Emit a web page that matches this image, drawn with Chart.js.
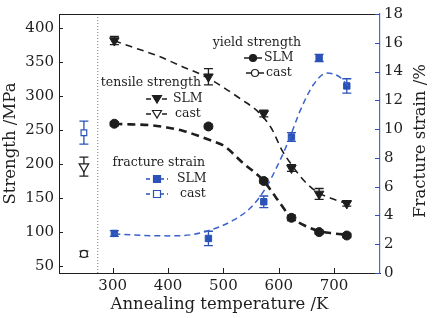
<!DOCTYPE html>
<html>
<head>
<meta charset="utf-8">
<script src="https://cdn.jsdelivr.net/npm/chart.js@4.4.0/dist/chart.umd.min.js"></script>
<style>
html, body { margin: 0; padding: 0; background: #fff; }
</style>
</head>
<body>
<canvas id="grafica" width="432" height="318"></canvas>
<script>
/* Datos */
const temps = [303, 473, 573, 623, 673, 723];
const tensileSLM = [381, 328, 274, 194, 156, 142];
const tensileErr = [6, 12, 5, 5, 8, 4];
const yieldSLM = [259, 255, 175, 121, 100, 95];
const yieldErr = [3, 3, 3, 4, 3, 3];
const strainSLM = [2.75, 2.4, 4.95, 9.45, 14.95, 13.0];
const strainErr = [0.2, 0.5, 0.4, 0.3, 0.25, 0.5];

const castTemp = [248];
const tensileCast = [196];
const tensileCastErr = [14];
const yieldCast = [68];
const yieldCastErr = [4];
const strainCast = [9.75];
const strainCastErr = [0.8];

/* Curvas de ajuste (puntos leídos sobre las líneas discontinuas) */
const tensileFitT = [303, 319, 380, 428, 458, 485, 530, 566, 587, 606, 624, 645, 669, 693, 723];
const tensileFit = [381, 376, 359, 342, 332, 320, 296, 274, 252, 220, 198, 176, 159, 150, 142];
const yieldFitT = [303, 331, 367, 398, 428, 452, 482, 500, 536, 572, 594, 621, 651, 675, 700, 723];
const yieldFit = [259, 258, 257, 253.5, 248.5, 242, 233, 227, 201, 176, 152, 123, 108, 101, 98, 96];
const strainFitT = [303, 350, 400, 440, 470, 518, 551, 578, 602, 618, 639, 663, 687, 711, 725];
const strainFit = [2.72, 2.62, 2.58, 2.65, 2.9, 3.67, 4.6, 6.0, 7.8, 9.2, 11.3, 13.1, 13.9, 13.6, 13.0];

const limiteT = [273];

const xTicks = [300, 400, 500, 600, 700];
const yTicks = [50, 100, 150, 200, 250, 300, 350, 400];
const y2Ticks = [0, 2, 4, 6, 8, 10, 12, 14, 16, 18];

const ink = "#1e1e1e";
const azul = "#2a52b8";
const fuente = "'DejaVu Serif', serif";

const pares = (xs, ys) => xs.map((x, i) => ({ x: x, y: ys[i] }));

/* barras de error */
const barrasError = {
	id: "barrasError",
	beforeDatasetsDraw(chart) {
		const ctx = chart.ctx;
		chart.data.datasets.forEach((ds, i) => {
			if (!ds.errores) return;
			const meta = chart.getDatasetMeta(i);
			const ys = chart.scales[ds.yAxisID || "y"];
			ctx.save();
			ctx.strokeStyle = ds.borderColor;
			ctx.lineWidth = 1.3;
			meta.data.forEach((pt, j) => {
				const v = ds.data[j].y, e = ds.errores[j];
				const y1 = ys.getPixelForValue(v + e), y2 = ys.getPixelForValue(v - e);
				ctx.beginPath();
				ctx.moveTo(pt.x, y1); ctx.lineTo(pt.x, y2);
				ctx.moveTo(pt.x - 4.5, y1); ctx.lineTo(pt.x + 4.5, y1);
				ctx.moveTo(pt.x - 4.5, y2); ctx.lineTo(pt.x + 4.5, y2);
				ctx.stroke();
			});
			ctx.restore();
		});
	},
};

/* marcas hacia dentro y marco superior */
const marcas = {
	id: "marcas",
	afterDraw(chart) {
		const { ctx, chartArea: a, scales } = chart;
		ctx.save();
		ctx.lineWidth = 1;
		ctx.strokeStyle = ink;
		ctx.beginPath();
		scales.x.ticks.forEach((t) => {
			const x = Math.round(scales.x.getPixelForValue(t.value)) + 0.5;
			ctx.moveTo(x, a.bottom); ctx.lineTo(x, a.bottom - 5);
		});
		scales.y.ticks.forEach((t) => {
			const y = Math.round(scales.y.getPixelForValue(t.value)) + 0.5;
			ctx.moveTo(a.left, y); ctx.lineTo(a.left + 4, y);
		});
		ctx.moveTo(a.left, a.top + 0.5); ctx.lineTo(a.right, a.top + 0.5);
		ctx.stroke();
		ctx.strokeStyle = azul;
		ctx.beginPath();
		scales.y2.ticks.forEach((t) => {
			const y = Math.round(scales.y2.getPixelForValue(t.value)) + 0.5;
			ctx.moveTo(a.right, y); ctx.lineTo(a.right - 5, y);
		});
		ctx.stroke();
		ctx.restore();
	},
};

function muestra(ctx, x1, x2, y, color, dash, forma, lleno) {
	ctx.save();
	ctx.strokeStyle = color;
	ctx.lineWidth = 1.5;
	ctx.setLineDash(dash);
	ctx.beginPath(); ctx.moveTo(x1, y); ctx.lineTo(x2, y); ctx.stroke();
	ctx.setLineDash([]);
	const xm = (x1 + x2) / 2;
	ctx.fillStyle = lleno ? color : "#fff";
	ctx.lineWidth = 1.2;
	ctx.beginPath();
	if (forma === "circle") ctx.arc(xm, y, 3.5, 0, Math.PI * 2);
	else if (forma === "tri") { ctx.moveTo(xm - 4.5, y - 3.5); ctx.lineTo(xm + 4.5, y - 3.5); ctx.lineTo(xm, y + 4); ctx.closePath(); }
	else ctx.rect(xm - 3.5, y - 3.5, 7, 7);
	ctx.fill(); ctx.stroke();
	ctx.restore();
}

/* leyendas dentro del gráfico y título del eje derecho */
const leyendas = {
	id: "leyendas",
	afterDraw(chart) {
		const ctx = chart.ctx;
		ctx.save();
		ctx.font = "12.5px " + fuente;
		ctx.fillStyle = ink;
		ctx.textBaseline = "middle";
		ctx.textAlign = "right";
		ctx.fillText("yield strength", 301, 43);
		ctx.fillText("tensile strength", 201, 83);
		ctx.fillText("fracture strain", 205, 163);
		ctx.textAlign = "left";
		ctx.fillText("SLM", 264, 58);
		ctx.fillText("cast", 266, 73);
		ctx.fillText("SLM", 173, 99);
		ctx.fillText("cast", 175, 114);
		ctx.fillText("SLM", 177, 179);
		ctx.fillText("cast", 180, 194);
		ctx.restore();
		muestra(ctx, 244, 262, 58, ink, [], "circle", true);
		muestra(ctx, 246, 264, 73, ink, [], "circle", false);
		muestra(ctx, 146, 168, 99, ink, [5, 3], "tri", true);
		muestra(ctx, 146, 168, 114, ink, [5, 3], "tri", false);
		muestra(ctx, 146, 168, 179, azul, [4, 3], "rect", true);
		muestra(ctx, 146, 168, 194, azul, [4, 3], "rect", false);

		ctx.save();
		ctx.font = "16.5px " + fuente;
		ctx.fillStyle = ink;
		ctx.textAlign = "center";
		ctx.textBaseline = "middle";
		ctx.translate(421, 141);
		ctx.rotate(-Math.PI / 2);
		ctx.fillText("Fracture strain /%", 0, 0);
		ctx.restore();
	},
};

const ctx = document.getElementById("grafica").getContext("2d");

new Chart(ctx, {
	type: "line",
	data: {
		datasets: [
			{
				data: [{ x: limiteT[0], y: 40 }, { x: limiteT[0], y: 420 }],
				yAxisID: "y", borderColor: "#777", borderWidth: 1, borderDash: [1, 2], pointRadius: 0,
			},
			{
				data: pares(tensileFitT, tensileFit),
				yAxisID: "y", borderColor: ink, borderWidth: 1.6, borderDash: [7, 5], pointRadius: 0,
				cubicInterpolationMode: "monotone",
			},
			{
				data: pares(yieldFitT, yieldFit),
				yAxisID: "y", borderColor: ink, borderWidth: 2.6, borderDash: [8, 5], pointRadius: 0,
				cubicInterpolationMode: "monotone",
			},
			{
				data: pares(strainFitT, strainFit),
				yAxisID: "y2", borderColor: "#3a62cc", borderWidth: 1.5, borderDash: [6, 4], pointRadius: 0,
				cubicInterpolationMode: "monotone",
			},
			{
				data: pares(temps, tensileSLM), errores: tensileErr,
				yAxisID: "y", showLine: false, pointStyle: "triangle", pointRotation: 180, pointRadius: 5.5,
				backgroundColor: ink, borderColor: ink,
			},
			{
				data: pares(temps, yieldSLM), errores: yieldErr,
				yAxisID: "y", showLine: false, pointStyle: "circle", pointRadius: 4.5,
				backgroundColor: ink, borderColor: ink,
			},
			{
				data: pares(temps, strainSLM), errores: strainErr,
				yAxisID: "y2", showLine: false, pointStyle: "rect", pointRadius: 4.5,
				backgroundColor: azul, borderColor: azul,
			},
			{
				data: pares(castTemp, tensileCast), errores: tensileCastErr,
				yAxisID: "y", showLine: false, pointStyle: "triangle", pointRotation: 180, pointRadius: 5.5,
				backgroundColor: "#fff", borderColor: ink, pointBorderWidth: 1.2,
			},
			{
				data: pares(castTemp, yieldCast), errores: yieldCastErr,
				yAxisID: "y", showLine: false, pointStyle: "circle", pointRadius: 3.5,
				backgroundColor: "#fff", borderColor: ink, pointBorderWidth: 1.2,
			},
			{
				data: pares(castTemp, strainCast), errores: strainCastErr,
				yAxisID: "y2", showLine: false, pointStyle: "rect", pointRadius: 4,
				backgroundColor: "#fff", borderColor: azul, pointBorderWidth: 1.2,
			},
		],
	},
	options: {
		responsive: false,
		animation: false,
		devicePixelRatio: 1,
		layout: { padding: { top: 13, left: 0, right: 0, bottom: 0 } },
		plugins: { legend: { display: false }, tooltip: { enabled: false } },
		scales: {
			x: {
				type: "linear", min: 203, max: 783,
				afterBuildTicks: (s) => { s.ticks = xTicks.map((v) => ({ value: v })); },
				afterFit: (s) => { s.height = 45; },
				grid: { drawOnChartArea: false, drawTicks: false },
				border: { color: ink, width: 1 },
				ticks: { color: ink, padding: 4, font: { family: fuente, size: 15 } },
				title: { display: true, text: "Annealing temperature /K", color: ink, padding: { top: 0, bottom: 3 }, font: { family: fuente, size: 16.5 } },
			},
			y: {
				type: "linear", position: "left", min: 40, max: 420,
				afterBuildTicks: (s) => { s.ticks = yTicks.map((v) => ({ value: v })); },
				afterFit: (s) => { s.width = 59; },
				grid: { drawOnChartArea: false, drawTicks: false },
				border: { color: ink, width: 1 },
				ticks: { color: ink, padding: 5, font: { family: fuente, size: 15 } },
				title: { display: true, text: "Strength /MPa", color: ink, padding: { top: 1, bottom: 0 }, font: { family: fuente, size: 16.5 } },
			},
			y2: {
				type: "linear", position: "right", min: 0, max: 18,
				afterBuildTicks: (s) => { s.ticks = y2Ticks.map((v) => ({ value: v })); },
				afterFit: (s) => { s.width = 52; },
				grid: { drawOnChartArea: false, drawTicks: false },
				border: { color: "#4a6fc8", width: 1.2 },
				ticks: { color: ink, padding: 4, font: { family: fuente, size: 15 } },
				title: { display: false },
			},
		},
	},
	plugins: [barrasError, marcas, leyendas],
});
</script>
</body>
</html>
